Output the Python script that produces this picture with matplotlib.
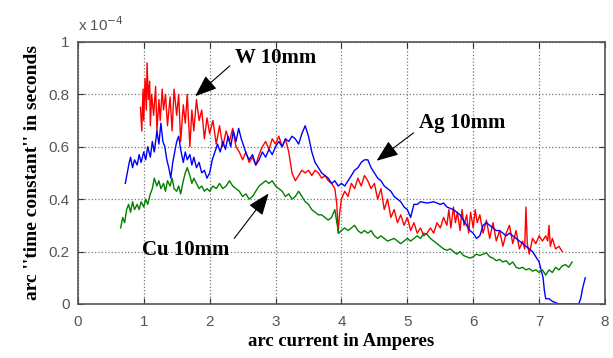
import matplotlib
matplotlib.use('Agg')
import matplotlib.pyplot as plt

# W 10mm (red)
w_x = [0.95, 0.97, 0.99, 1.0, 1.02, 1.04, 1.05, 1.07, 1.09, 1.1, 1.12, 1.15, 1.18, 1.2, 1.23, 1.25,
       1.28, 1.3, 1.33, 1.36, 1.4, 1.43, 1.46, 1.5, 1.53, 1.56, 1.6, 1.63, 1.66, 1.7, 1.73, 1.76,
       1.8, 1.84, 1.88, 1.92, 1.96, 2.0, 2.05, 2.1, 2.15, 2.2, 2.25, 2.3, 2.35, 2.4, 2.45, 2.5,
       2.55, 2.6, 2.65, 2.7, 2.75, 2.8, 2.85, 2.9, 2.95, 3.0, 3.05, 3.1, 3.15, 3.2, 3.25, 3.3,
       3.35, 3.4, 3.45, 3.5, 3.55, 3.6, 3.65, 3.7, 3.75, 3.8, 3.85, 3.9, 3.93, 3.95, 3.97, 4.0,
       4.05, 4.1, 4.15, 4.2, 4.25, 4.3, 4.35, 4.4, 4.45, 4.5, 4.55, 4.6, 4.65, 4.7, 4.75, 4.8,
       4.85, 4.9, 4.95, 5.0, 5.05, 5.1, 5.15, 5.2, 5.25, 5.3, 5.35, 5.4, 5.45, 5.5, 5.55, 5.6,
       5.63, 5.66, 5.7, 5.73, 5.76, 5.8, 5.83, 5.86, 5.9, 5.93, 5.96, 6.0, 6.03, 6.06, 6.1, 6.15,
       6.2, 6.25, 6.3, 6.35, 6.4, 6.45, 6.5, 6.55, 6.6, 6.65, 6.7, 6.75, 6.78, 6.8, 6.82, 6.85,
       6.9, 6.95, 7.0, 7.05, 7.1, 7.13, 7.15, 7.17, 7.2, 7.25, 7.3, 7.35]
w_y = [0.75, 0.66, 0.82, 0.70, 0.86, 0.74, 0.92, 0.78, 0.85, 0.68, 0.80, 0.72, 0.83, 0.66, 0.78, 0.70,
       0.82, 0.74, 0.80, 0.68, 0.79, 0.66, 0.82, 0.72, 0.80, 0.62, 0.76, 0.69, 0.80, 0.60, 0.74, 0.66,
       0.78, 0.70, 0.74, 0.63, 0.71, 0.65, 0.70, 0.61, 0.68, 0.60, 0.66, 0.62, 0.67, 0.60, 0.58, 0.55,
       0.58, 0.54, 0.56, 0.53, 0.57, 0.60, 0.62, 0.59, 0.63, 0.61, 0.64, 0.60, 0.63, 0.58, 0.50, 0.47,
       0.49, 0.51, 0.50, 0.51, 0.49, 0.51, 0.50, 0.48, 0.49, 0.47, 0.46, 0.44, 0.38, 0.27, 0.34, 0.40,
       0.43, 0.41, 0.46, 0.44, 0.48, 0.45, 0.49, 0.47, 0.44, 0.46, 0.40, 0.44, 0.36, 0.40, 0.33, 0.36,
       0.31, 0.34, 0.30, 0.33, 0.28, 0.31, 0.27, 0.29, 0.26, 0.27, 0.29, 0.27, 0.31, 0.29, 0.33, 0.30,
       0.36, 0.29, 0.37, 0.31, 0.35, 0.28, 0.36, 0.30, 0.34, 0.27, 0.35, 0.29, 0.36, 0.31, 0.34, 0.27,
       0.32, 0.25, 0.31, 0.24, 0.28, 0.22, 0.27, 0.30, 0.23, 0.28, 0.21, 0.24, 0.21, 0.37, 0.23, 0.19,
       0.25, 0.23, 0.26, 0.24, 0.26, 0.24, 0.30, 0.22, 0.25, 0.21, 0.22, 0.20]

# Ag 10mm (blue)
ag_x = [0.72, 0.75, 0.78, 0.8, 0.83, 0.86, 0.9, 0.93, 0.96, 1.0, 1.03, 1.06, 1.1, 1.13, 1.16, 1.2,
        1.23, 1.26, 1.29, 1.32, 1.35, 1.38, 1.41, 1.44, 1.47, 1.5, 1.53, 1.56, 1.6, 1.63, 1.66, 1.7,
        1.73, 1.76, 1.8, 1.84, 1.88, 1.92, 1.96, 2.0, 2.04, 2.08, 2.12, 2.16, 2.2, 2.24, 2.28, 2.32,
        2.36, 2.4, 2.44, 2.48, 2.52, 2.56, 2.6, 2.65, 2.7, 2.75, 2.8, 2.85, 2.9, 2.95, 3.0, 3.05,
        3.1, 3.15, 3.2, 3.25, 3.3, 3.35, 3.4, 3.45, 3.5, 3.55, 3.6, 3.65, 3.7, 3.75, 3.8, 3.85,
        3.9, 3.95, 4.0, 4.05, 4.1, 4.15, 4.2, 4.25, 4.3, 4.35, 4.4, 4.45, 4.5, 4.55, 4.6, 4.65,
        4.7, 4.75, 4.8, 4.85, 4.9, 4.95, 5.0, 5.05, 5.1, 5.15, 5.2, 5.3, 5.4, 5.5, 5.55, 5.6,
        5.65, 5.7, 5.75, 5.8, 5.85, 5.9, 5.95, 6.0, 6.05, 6.1, 6.15, 6.2, 6.25, 6.3, 6.35, 6.4,
        6.45, 6.5, 6.55, 6.6, 6.65, 6.7, 6.75, 6.8, 6.85, 6.9, 6.95, 7.0, 7.03, 7.06, 7.08, 7.1,
        7.15, 7.2, 7.25, 7.3, 7.4, 7.5, 7.6, 7.63, 7.66, 7.7]
ag_y = [0.46, 0.50, 0.54, 0.56, 0.52, 0.55, 0.53, 0.57, 0.54, 0.58, 0.55, 0.60, 0.56, 0.62, 0.58, 0.66,
        0.61, 0.69, 0.62, 0.60, 0.55, 0.52, 0.48, 0.54, 0.58, 0.62, 0.64, 0.59, 0.54, 0.58, 0.55, 0.57,
        0.53, 0.56, 0.52, 0.54, 0.50, 0.51, 0.48, 0.50, 0.55, 0.58, 0.61, 0.58, 0.62, 0.59, 0.64, 0.60,
        0.66, 0.62, 0.67, 0.63, 0.60, 0.57, 0.55, 0.57, 0.53, 0.55, 0.58, 0.56, 0.59, 0.57, 0.60, 0.62,
        0.60, 0.63, 0.62, 0.64, 0.63, 0.61, 0.65, 0.68, 0.64, 0.58, 0.54, 0.52, 0.50, 0.49, 0.48, 0.46,
        0.47, 0.45, 0.46, 0.45, 0.47, 0.49, 0.51, 0.52, 0.54, 0.55, 0.55, 0.52, 0.50, 0.48, 0.47, 0.45,
        0.44, 0.43, 0.41, 0.40, 0.39, 0.37, 0.36, 0.33, 0.38, 0.38, 0.39, 0.385, 0.39, 0.38, 0.385, 0.37,
        0.365, 0.36, 0.35, 0.34, 0.32, 0.30, 0.28, 0.27, 0.25, 0.26, 0.30, 0.31, 0.30, 0.29, 0.28, 0.28,
        0.27, 0.26, 0.27, 0.26, 0.25, 0.24, 0.23, 0.22, 0.21, 0.20, 0.18, 0.16, 0.13, 0.10, 0.05, 0.02,
        0.02, 0.01, 0.005, 0.0, 0.0, 0.0, 0.0, 0.02, 0.06, 0.10]

# Cu 10mm (green)
cu_x = [0.65, 0.68, 0.71, 0.74, 0.77, 0.8, 0.83, 0.86, 0.9, 0.93, 0.96, 1.0, 1.03, 1.06, 1.1, 1.13,
        1.16, 1.2, 1.23, 1.26, 1.3, 1.33, 1.36, 1.4, 1.43, 1.46, 1.5, 1.53, 1.56, 1.6, 1.63, 1.66,
        1.7, 1.73, 1.76, 1.8, 1.84, 1.88, 1.92, 1.96, 2.0, 2.05, 2.1, 2.15, 2.2, 2.25, 2.3, 2.35,
        2.4, 2.45, 2.5, 2.55, 2.6, 2.65, 2.7, 2.75, 2.8, 2.85, 2.9, 2.95, 3.0, 3.05, 3.1, 3.15,
        3.2, 3.25, 3.3, 3.35, 3.4, 3.45, 3.5, 3.55, 3.6, 3.65, 3.7, 3.75, 3.8, 3.85, 3.9, 3.93,
        3.96, 4.0, 4.05, 4.1, 4.15, 4.2, 4.25, 4.3, 4.35, 4.4, 4.45, 4.5, 4.55, 4.6, 4.65, 4.7,
        4.75, 4.8, 4.85, 4.9, 4.95, 5.0, 5.05, 5.1, 5.15, 5.2, 5.25, 5.3, 5.35, 5.4, 5.45, 5.5,
        5.55, 5.6, 5.65, 5.7, 5.75, 5.8, 5.85, 5.9, 5.95, 6.0, 6.05, 6.1, 6.15, 6.2, 6.25, 6.3,
        6.35, 6.4, 6.45, 6.5, 6.55, 6.6, 6.65, 6.7, 6.75, 6.8, 6.85, 6.9, 6.95, 7.0, 7.05, 7.1,
        7.15, 7.2, 7.25, 7.3, 7.35, 7.4, 7.45, 7.5]
cu_y = [0.29, 0.33, 0.31, 0.36, 0.38, 0.35, 0.39, 0.36, 0.38, 0.36, 0.39, 0.37, 0.40, 0.38, 0.42, 0.44,
        0.48, 0.45, 0.47, 0.44, 0.46, 0.43, 0.47, 0.45, 0.48, 0.44, 0.43, 0.45, 0.42, 0.47, 0.50, 0.52,
        0.49, 0.46, 0.48, 0.46, 0.44, 0.45, 0.43, 0.44, 0.43, 0.45, 0.44, 0.46, 0.44, 0.45, 0.47, 0.45,
        0.44, 0.43, 0.41, 0.42, 0.40, 0.41, 0.43, 0.45, 0.46, 0.47, 0.46, 0.47, 0.45, 0.44, 0.43, 0.41,
        0.42, 0.40, 0.41, 0.43, 0.41, 0.39, 0.38, 0.36, 0.35, 0.34, 0.34, 0.33, 0.32, 0.33, 0.36, 0.31,
        0.27, 0.28, 0.29, 0.28, 0.29, 0.30, 0.28, 0.27, 0.28, 0.27, 0.28, 0.26, 0.25, 0.26, 0.25, 0.24,
        0.245, 0.25, 0.24, 0.23, 0.24, 0.25, 0.24, 0.25, 0.26, 0.25, 0.27, 0.265, 0.25, 0.24, 0.23, 0.22,
        0.21, 0.205, 0.21, 0.20, 0.19, 0.20, 0.185, 0.18, 0.175, 0.18, 0.19, 0.185, 0.19, 0.195, 0.18, 0.175,
        0.165, 0.17, 0.16, 0.165, 0.15, 0.16, 0.14, 0.135, 0.14, 0.13, 0.135, 0.125, 0.13, 0.12, 0.13, 0.11,
        0.13, 0.12, 0.14, 0.13, 0.145, 0.15, 0.14, 0.16]

fig = plt.figure(figsize=(6.13, 3.58), dpi=100)
ax = fig.add_axes([0.127, 0.151, 0.86, 0.732])

ax.plot(w_x, w_y, color='red', lw=1.0)
ax.plot(ag_x, ag_y, color='blue', lw=1.0)
ax.plot(cu_x, cu_y, color='#008000', lw=1.0)

ax.set_xlim(0, 8)
ax.set_ylim(0, 1)
ax.set_xticks(range(0, 9))
ax.set_yticks([0, 0.2, 0.4, 0.6, 0.8, 1])
ax.set_yticklabels(['0', '0.2', '0.4', '0.6', '0.8', '1'])
ax.grid(True, linestyle=':', color='#777777', lw=0.9)
ax.tick_params(direction='in', top=True, right=True, labelsize=11, labelcolor='#555555',
               color='#333333', length=4)
ax.tick_params(axis='x', pad=8)
ax.tick_params(axis='y', pad=6)
for t in ax.get_xticklabels() + ax.get_yticklabels():
    t.set_family('Liberation Sans')
for s in ax.spines.values():
    s.set_color('#555555')
    s.set_linewidth(1.2)

ax.set_xlabel('arc current in Amperes', family='Liberation Serif', fontweight='bold',
              fontsize=13.5, labelpad=3)
ax.set_ylabel("arc ''time constant'' in seconds", family='Liberation Serif', fontweight='bold',
              fontsize=14, labelpad=5)
ax.text(0.0, 1.03, r'x 10$^{-4}$', transform=ax.transAxes, fontsize=11, color='#555555',
        family='Liberation Sans', ha='left', va='bottom')

arrow = dict(arrowstyle='-|>,head_length=0.9,head_width=0.35', color='black', lw=0.8)
font = dict(family='Liberation Serif', fontweight='bold', fontsize=15)
ax.annotate('W 10mm', xy=(1.75, 0.786), xytext=(2.38, 0.94), ha='left', va='center',
            arrowprops=dict(arrow, relpos=(0.0, 0.3)), **font)
ax.annotate('Ag 10mm', xy=(4.5, 0.54), xytext=(5.17, 0.69), ha='left', va='center',
            arrowprops=dict(arrow, relpos=(0.0, 0.2)), **font)
ax.annotate('Cu 10mm', xy=(2.92, 0.43), xytext=(0.98, 0.205), ha='left', va='center',
            arrowprops=dict(arrow, relpos=(1.0, 0.8)), **font)

fig.savefig('out.png', dpi=100)
